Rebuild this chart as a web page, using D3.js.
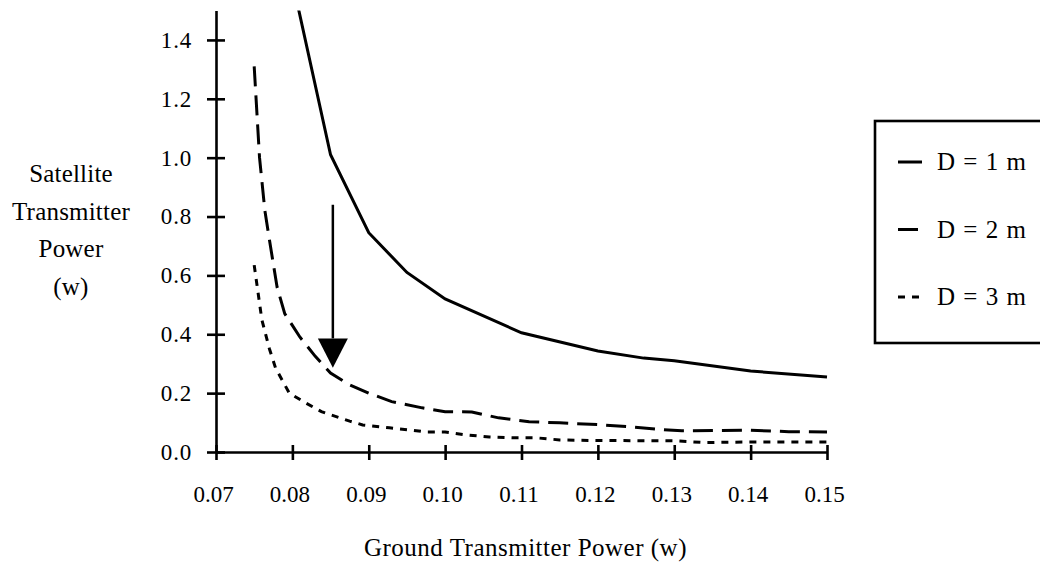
<!DOCTYPE html>
<html>
<head>
<meta charset="utf-8">
<script src="https://cdn.jsdelivr.net/npm/d3@7"></script>
<style>
  body { margin: 0; background: #fff; }
  text { font-family: "Liberation Serif", "Times New Roman", serif; fill: #000; }
</style>
</head>
<body>
<div id="chart"></div>
<script>
// values: [ground power (w), satellite power (w)]
const seriesD1 = [
  [0.080, 1.60], [0.085, 1.01], [0.090, 0.745], [0.095, 0.61], [0.100, 0.52],
  [0.110, 0.405], [0.120, 0.343], [0.126, 0.319], [0.130, 0.31], [0.140, 0.275],
  [0.150, 0.255]
];
const seriesD2 = [
  [0.075, 1.31], [0.0757, 1.0], [0.0764, 0.82], [0.077, 0.72], [0.0775, 0.64], [0.078, 0.56],
  [0.079, 0.47], [0.080, 0.43], [0.081, 0.39], [0.083, 0.325], [0.085, 0.268],
  [0.0875, 0.228], [0.090, 0.2], [0.093, 0.171], [0.097, 0.15], [0.100, 0.137],
  [0.1035, 0.136], [0.107, 0.116], [0.111, 0.103], [0.115, 0.099], [0.120, 0.093],
  [0.124, 0.086], [0.128, 0.077], [0.131, 0.072], [0.140, 0.074], [0.145, 0.069],
  [0.150, 0.068]
];
const seriesD3 = [
  [0.075, 0.635], [0.076, 0.45], [0.077, 0.35], [0.0778, 0.285], [0.0796, 0.2],
  [0.0818, 0.166], [0.0838, 0.137], [0.0875, 0.105], [0.0892, 0.092], [0.0927, 0.082],
  [0.0953, 0.075], [0.0975, 0.068], [0.100, 0.068], [0.1028, 0.058], [0.1058, 0.051],
  [0.1093, 0.048], [0.112, 0.048], [0.115, 0.041], [0.120, 0.039], [0.130, 0.038],
  [0.134, 0.032], [0.140, 0.034], [0.150, 0.034]
];
const legendLabels = ["D = 1 m", "D = 2 m", "D = 3 m"];
const xTicks = [0.07, 0.08, 0.09, 0.10, 0.11, 0.12, 0.13, 0.14, 0.15];
const yTicks = [0.0, 0.2, 0.4, 0.6, 0.8, 1.0, 1.2, 1.4];
const yTitle = ["Satellite", "Transmitter", "Power", "(w)"];
const xTitle = "Ground Transmitter Power (w)";
// arrow: at ground power 0.0853, from 0.84 down to 0.286
const arrowX = 0.0853, arrowFrom = 0.84, arrowBase = 0.386, arrowTip = 0.286;

const width = 1040, height = 565;
const tickFont = 23, titleFont = 25;

const svg = d3.select("#chart").append("svg")
  .attr("width", width)
  .attr("height", height);

const x = d3.scaleLinear().domain([0.07, 0.15]).range([216, 827]);
const y = d3.scaleLinear().domain([0, 1.5]).range([452, 10.5]);

// clip so the D = 1 m curve stops at the top of the axis
svg.append("clipPath").attr("id", "plot")
  .append("rect")
  .attr("x", x(0.07)).attr("y", y(1.5))
  .attr("width", x(0.15) - x(0.07) + 4)
  .attr("height", y(0) - y(1.5));

// y axis
svg.append("g")
  .attr("transform", `translate(${x(0.07)},0)`)
  .call(d3.axisLeft(y).tickValues(yTicks).tickFormat(d3.format(".1f"))
        .tickSize(9).tickSizeOuter(0).tickPadding(15))
  .call(g => g.select(".domain").attr("stroke-width", 2.6))
  .call(g => g.selectAll(".tick line").attr("x1", 9).attr("stroke-width", 2.6))
  .call(g => g.selectAll(".tick text")
        .attr("font-size", tickFont).attr("letter-spacing", 0.8)
        .attr("dy", "0.32em"));

// x axis
svg.append("g")
  .attr("transform", `translate(0,${y(0)})`)
  .call(d3.axisBottom(x).tickValues(xTicks).tickFormat(d3.format(".2f"))
        .tickSize(8).tickSizeOuter(0))
  .call(g => g.select(".domain").attr("stroke-width", 2.6))
  .call(g => g.selectAll(".tick line").attr("y1", -7).attr("stroke-width", 2.6))
  .call(g => g.selectAll(".tick text")
        .attr("font-size", tickFont)
        .attr("x", -3).attr("y", 50).attr("dy", 0));

// axis titles
svg.append("g").selectAll("text")
  .data(yTitle)
  .join("text")
  .attr("x", 71)
  .attr("y", (d, i) => 182 + i * 37.5)
  .attr("text-anchor", "middle")
  .attr("font-size", titleFont)
  .attr("letter-spacing", 0.2)
  .text(d => d);

svg.append("text")
  .attr("x", (x(0.07) + x(0.15)) / 2 + 4)
  .attr("y", 556)
  .attr("text-anchor", "middle")
  .attr("font-size", titleFont)
  .attr("letter-spacing", 0.5)
  .text(xTitle);

// curves
const line = d3.line()
  .x(d => x(d[0]))
  .y(d => y(d[1]));

const styles = [
  { data: seriesD1, dash: null },
  { data: seriesD2, dash: "20,9" },
  { data: seriesD3, dash: "7,7" }
];

svg.append("g").attr("clip-path", "url(#plot)")
  .selectAll("path")
  .data(styles)
  .join("path")
  .attr("d", d => line(d.data))
  .attr("fill", "none")
  .attr("stroke", "#000")
  .attr("stroke-width", 3)
  .attr("stroke-dasharray", d => d.dash);

// arrow
svg.append("line")
  .attr("x1", x(arrowX)).attr("x2", x(arrowX))
  .attr("y1", y(arrowFrom)).attr("y2", y(arrowBase))
  .attr("stroke", "#000")
  .attr("stroke-width", 2.5);

svg.append("path")
  .attr("d", `M${x(arrowX) - 15},${y(arrowBase)}L${x(arrowX) + 15},${y(arrowBase)}L${x(arrowX)},${y(arrowTip)}Z`)
  .attr("fill", "#000");

// legend
const legend = svg.append("g");
legend.append("rect")
  .attr("x", 875).attr("y", 121)
  .attr("width", 200).attr("height", 222)
  .attr("fill", "none")
  .attr("stroke", "#000")
  .attr("stroke-width", 2.6);

const rows = legend.selectAll(".row")
  .data(legendLabels)
  .join("g")
  .attr("class", "row")
  .attr("transform", (d, i) => `translate(0,${170 + i * 67.5})`);

rows.append("line")
  .attr("x1", 898).attr("x2", (d, i) => i === 1 ? 920 : 922)
  .attr("y1", -8).attr("y2", -8)
  .attr("stroke", "#000")
  .attr("stroke-width", 3)
  .attr("stroke-dasharray", (d, i) => styles[i].dash);

rows.append("text")
  .attr("x", 937)
  .attr("font-size", titleFont)
  .attr("word-spacing", 2)
  .text(d => d);
</script>
</body>
</html>
